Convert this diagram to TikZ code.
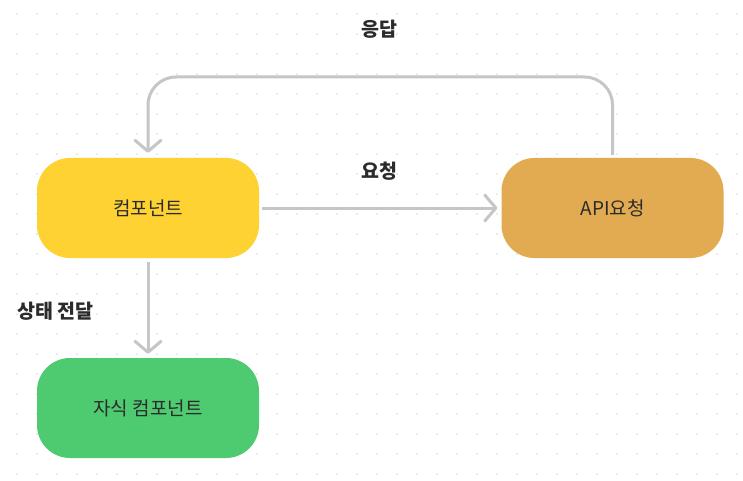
\documentclass[tikz,border=0pt]{standalone}
\usepackage{fontspec}
\newfontfamily\krfont{Noto Sans CJK KR}
\usetikzlibrary{arrows.meta,positioning}
\definecolor{boxyellow}{HTML}{FDD232}
\definecolor{boxorange}{HTML}{E3AB51}
\definecolor{boxgreen}{HTML}{4ECB71}
\definecolor{linegray}{HTML}{C6C6C6}
\definecolor{textdark}{HTML}{2B2B2B}
\definecolor{dotgray}{HTML}{D6D6D6}
\tikzset{
	compbox/.style={rounded corners=33pt, minimum width=222pt, minimum height=100pt,
		inner sep=0pt, text=textdark, font=\krfont\fontsize{19}{22}\selectfont},
	flowline/.style={draw=linegray, line width=3pt,
		-{Straight Barb[length=11pt,width=26pt,round]}},
	edgelabel/.style={text=textdark, font=\krfont\bfseries\fontsize{19.5}{22}\selectfont, inner sep=0pt}
}
\begin{document}
\begin{tikzpicture}[x=1pt,y=-1pt]
			\def\CanvasW{743}
			\def\CanvasH{481}
			\def\DotStep{20}
			% background with dot grid
			\fill[white] (0,0) rectangle (\CanvasW,\CanvasH);
			\useasboundingbox (0,0) rectangle (\CanvasW,\CanvasH);
			\foreach \i in {0,...,36}
				\foreach \j in {0,...,23}
					\fill[dotgray] (17+\i*\DotStep,14+\j*\DotStep) circle (0.9pt);
			% boxes
			\node[compbox, fill=boxyellow] (comp) at (148,208) {컴포넌트};
			\node[compbox, fill=boxorange] (api) at (612.5,208) {API요청};
			\node[compbox, fill=boxgreen] (child) at (148,408) {자식 컴포넌트};
			% connectors
			\draw[flowline] ([xshift=3pt]comp.east) -- ([xshift=-4pt]api.west);
			\draw[flowline] ([yshift=-4pt]comp.south) -- ([yshift=4pt]child.north);
			\coordinate (backtop) at (0,77);
			\draw[flowline, rounded corners=28pt] ([yshift=3pt]api.north) |- (backtop -| comp.north)
				-- ([yshift=5pt]comp.north);
			% labels
			\node[edgelabel] (reslabel) at (379,29) {응답};
			\node[edgelabel] (reqlabel) at (379,171) {요청};
			\node[edgelabel, anchor=west] (passlabel) at (17,311) {상태 전달};
\end{tikzpicture}
\end{document}
